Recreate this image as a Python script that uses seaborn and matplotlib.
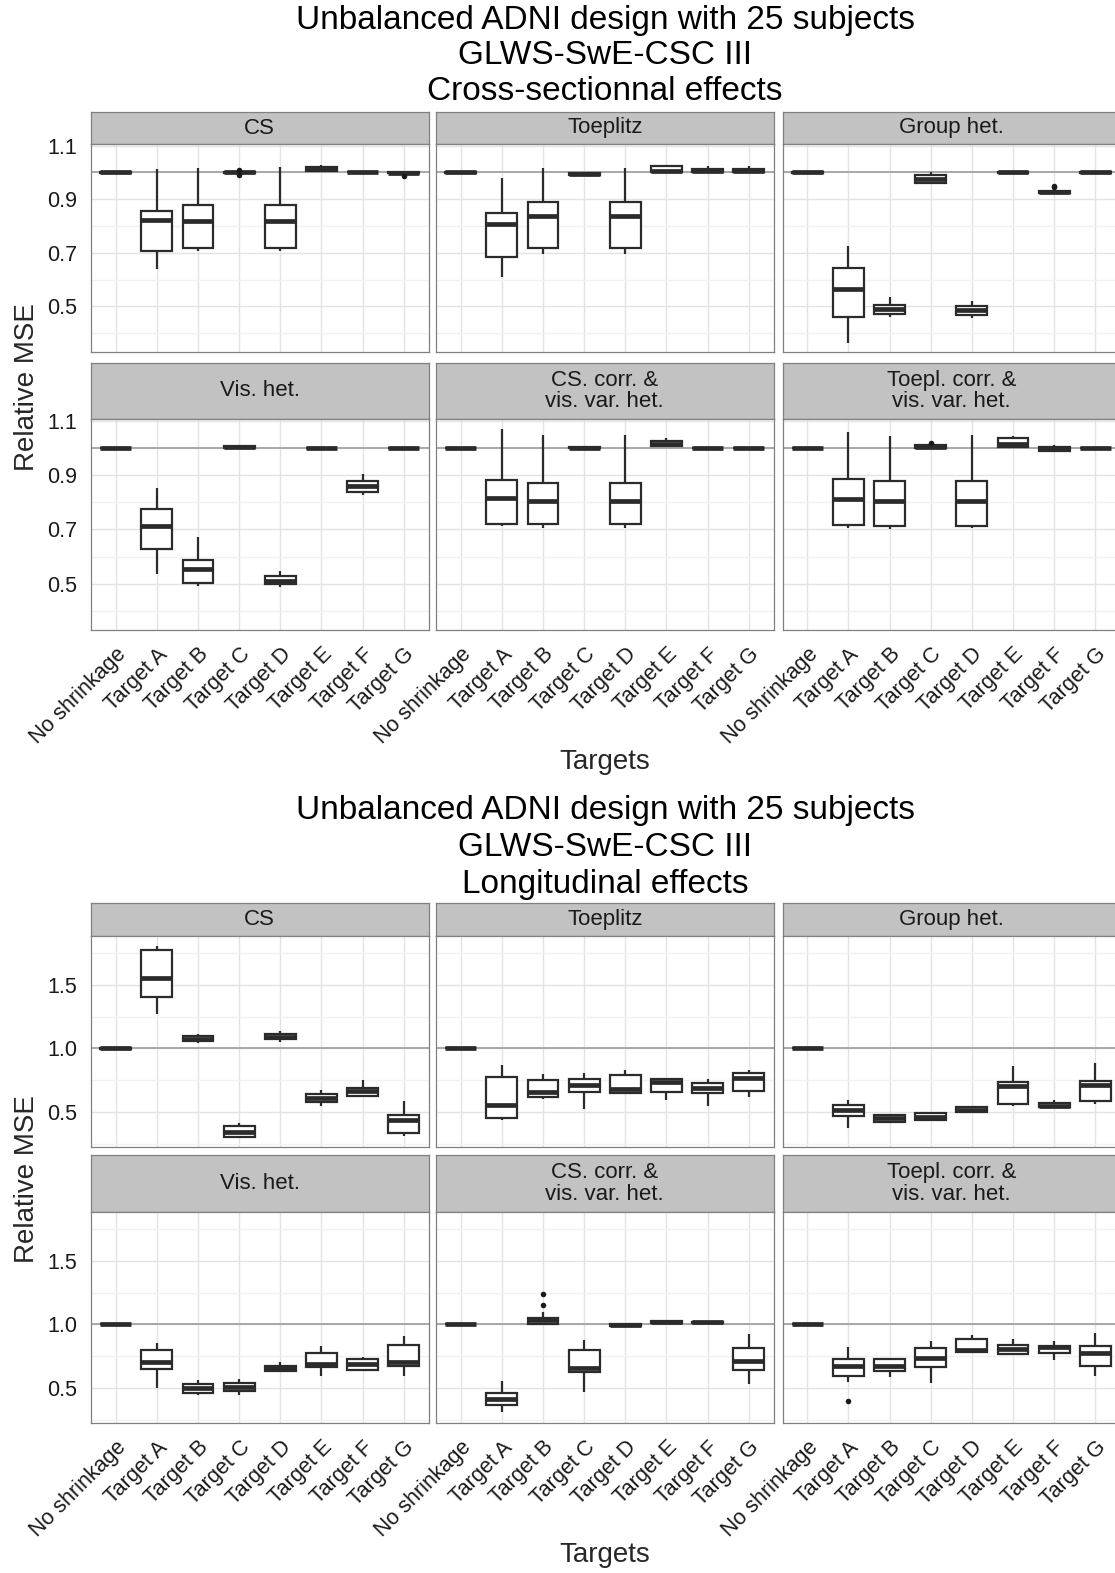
import numpy as np
import pandas as pd
import matplotlib
matplotlib.use("Agg")
import matplotlib.pyplot as plt
import seaborn as sns

# ---- data: five-number summaries (min, Q1, median, Q3, max) per target ----
targets = ["No shrinkage", "Target A", "Target B", "Target C",
           "Target D", "Target E", "Target F", "Target G"]
panel_names = ["CS", "Toeplitz", "Group het.", "Vis. het.",
               "CS. corr. &\nvis. var. het.", "Toepl. corr. &\nvis. var. het."]

flat = [0.998, 0.999, 1.000, 1.001, 1.002]

cross_cs = [flat,
            [0.641, 0.705, 0.822, 0.856, 1.014],
            [0.705, 0.719, 0.818, 0.880, 1.018],
            [0.995, 0.998, 1.000, 1.002, 1.004],
            [0.705, 0.719, 0.818, 0.880, 1.020],
            [1.004, 1.007, 1.012, 1.019, 1.026],
            [0.999, 1.000, 1.001, 1.003, 1.004],
            [0.995, 0.997, 0.999, 1.001, 1.003]]
cross_toeplitz = [flat,
                  [0.610, 0.686, 0.807, 0.848, 0.981],
                  [0.694, 0.719, 0.836, 0.889, 1.016],
                  [0.987, 0.989, 0.993, 0.997, 0.999],
                  [0.694, 0.719, 0.836, 0.891, 1.018],
                  [0.999, 1.001, 1.007, 1.025, 1.027],
                  [0.998, 1.000, 1.005, 1.013, 1.024],
                  [0.998, 1.000, 1.005, 1.013, 1.024]]
cross_grouphet = [flat,
                  [0.362, 0.462, 0.565, 0.644, 0.727],
                  [0.460, 0.470, 0.490, 0.505, 0.537],
                  [0.955, 0.962, 0.975, 0.990, 1.000],
                  [0.455, 0.467, 0.485, 0.500, 0.521],
                  flat,
                  [0.921, 0.924, 0.927, 0.931, 0.940],
                  flat]
cross_vishet = [flat,
                [0.537, 0.627, 0.714, 0.776, 0.853],
                [0.491, 0.503, 0.553, 0.587, 0.673],
                [0.998, 1.000, 1.003, 1.006, 1.008],
                [0.488, 0.499, 0.510, 0.528, 0.546],
                flat,
                [0.828, 0.836, 0.859, 0.877, 0.903],
                flat]
cross_cscorr = [flat,
                [0.712, 0.720, 0.815, 0.881, 1.070],
                [0.705, 0.720, 0.806, 0.869, 1.048],
                [0.998, 0.999, 1.001, 1.003, 1.006],
                [0.705, 0.720, 0.806, 0.870, 1.048],
                [1.003, 1.005, 1.015, 1.025, 1.035],
                flat,
                flat]
cross_toeplcorr = [flat,
                   [0.704, 0.718, 0.813, 0.885, 1.057],
                   [0.702, 0.712, 0.806, 0.879, 1.042],
                   [0.998, 1.000, 1.004, 1.009, 1.013],
                   [0.704, 0.713, 0.806, 0.879, 1.048],
                   [1.000, 1.002, 1.015, 1.037, 1.043],
                   [0.985, 0.988, 0.995, 1.002, 1.009],
                   flat]
cross_outliers = [("CS", "Target C", 1.010), ("CS", "Target C", 0.989),
                  ("CS", "Target G", 0.988),
                  ("Group het.", "Target F", 0.946), ("Group het.", "Target F", 0.951),
                  ("Toepl. corr. &\nvis. var. het.", "Target C", 1.018)]

long_cs = [[0.995, 0.998, 1.000, 1.002, 1.005],
           [1.268, 1.408, 1.553, 1.776, 1.808],
           [1.045, 1.055, 1.072, 1.095, 1.113],
           [0.292, 0.302, 0.340, 0.390, 0.416],
           [1.047, 1.073, 1.090, 1.111, 1.139],
           [0.545, 0.576, 0.612, 0.643, 0.676],
           [0.618, 0.628, 0.665, 0.690, 0.755],
           [0.308, 0.334, 0.434, 0.479, 0.587]]
long_toeplitz = [flat,
                 [0.434, 0.455, 0.553, 0.771, 0.868],
                 [0.605, 0.618, 0.660, 0.750, 0.795],
                 [0.526, 0.658, 0.708, 0.760, 0.803],
                 [0.640, 0.645, 0.682, 0.787, 0.829],
                 [0.597, 0.655, 0.732, 0.760, 0.768],
                 [0.547, 0.645, 0.687, 0.724, 0.760],
                 [0.618, 0.666, 0.763, 0.808, 0.829]]
long_grouphet = [flat,
                 [0.376, 0.466, 0.515, 0.553, 0.597],
                 [0.418, 0.420, 0.450, 0.479, 0.487],
                 [0.434, 0.436, 0.460, 0.492, 0.503],
                 [0.495, 0.497, 0.515, 0.539, 0.550],
                 [0.545, 0.566, 0.703, 0.732, 0.861],
                 [0.534, 0.536, 0.550, 0.571, 0.592],
                 [0.566, 0.584, 0.713, 0.745, 0.882]]
long_vishet = [flat,
               [0.503, 0.645, 0.700, 0.797, 0.855],
               [0.442, 0.463, 0.500, 0.529, 0.566],
               [0.447, 0.476, 0.510, 0.539, 0.574],
               [0.629, 0.632, 0.655, 0.676, 0.705],
               [0.597, 0.661, 0.692, 0.776, 0.829],
               [0.632, 0.639, 0.685, 0.724, 0.745],
               [0.592, 0.671, 0.705, 0.834, 0.908]]
long_cscorr = [flat,
               [0.311, 0.368, 0.416, 0.461, 0.555],
               [0.995, 1.000, 1.034, 1.053, 1.100],
               [0.471, 0.626, 0.653, 0.797, 0.876],
               [0.987, 0.990, 0.997, 1.003, 1.006],
               [1.010, 1.013, 1.022, 1.028, 1.032],
               [1.005, 1.008, 1.015, 1.022, 1.026],
               [0.534, 0.639, 0.713, 0.813, 0.921]]
long_toeplcorr = [flat,
                  [0.547, 0.597, 0.674, 0.726, 0.824],
                  [0.587, 0.632, 0.671, 0.724, 0.739],
                  [0.539, 0.661, 0.732, 0.811, 0.871],
                  [0.780, 0.782, 0.797, 0.882, 0.916],
                  [0.758, 0.766, 0.805, 0.837, 0.884],
                  [0.718, 0.776, 0.818, 0.829, 0.868],
                  [0.595, 0.671, 0.771, 0.829, 0.934]]
long_outliers = [("CS. corr. &\nvis. var. het.", "Target B", 1.153),
                 ("CS. corr. &\nvis. var. het.", "Target B", 1.237),
                 ("Toepl. corr. &\nvis. var. het.", "Target A", 0.397)]


def to_frame(summaries):
    rows = []
    for panel, per_target in zip(panel_names, summaries):
        for t, five in zip(targets, per_target):
            for v in five:
                rows.append((panel, t, v))
    return pd.DataFrame(rows, columns=["panel", "target", "value"])


cross_df = to_frame([cross_cs, cross_toeplitz, cross_grouphet,
                     cross_vishet, cross_cscorr, cross_toeplcorr])
long_df = to_frame([long_cs, long_toeplitz, long_grouphet,
                    long_vishet, long_cscorr, long_toeplcorr])
cross_out = pd.DataFrame(cross_outliers, columns=["panel", "target", "value"])
long_out = pd.DataFrame(long_outliers, columns=["panel", "target", "value"])

# ---- style ----
sns.set_style("white")
plt.rcParams["font.family"] = ["Liberation Sans", "DejaVu Sans"]

W, H = 1115, 1573
fig = plt.figure(figsize=(W / 100, H / 100), dpi=100)


def rect(x0, y0, x1, y1):
    return [x0 / W, 1 - y1 / H, (x1 - x0) / W, (y1 - y0) / H]


col_left = [91, 436, 782.5]
col_w = 337.5
dark = "#2b2b2b"


def draw_chart(df, out, titles, title_y, strips, panels, ylim, major, minor,
               xlabel_y):
    for line, ty in zip(titles, title_y):
        fig.text(605 / W, 1 - ty / H, line, ha="center", va="center",
                 fontsize=24, color="black")
    for i, name in enumerate(panel_names):
        r, c = divmod(i, 3)
        x0 = col_left[c]
        x1 = x0 + col_w
        sax = fig.add_axes(rect(x0, strips[r][0], x1, strips[r][1]))
        sax.set_facecolor("#C2C2C2")
        sax.set_xticks([])
        sax.set_yticks([])
        for s in sax.spines.values():
            s.set_color("#808080")
            s.set_linewidth(0.9)
        sax.text(0.5, 0.5, name, ha="center", va="center", fontsize=16,
                 color="#1a1a1a", transform=sax.transAxes, linespacing=1.05)

        ax = fig.add_axes(rect(x0, panels[r][0], x1, panels[r][1]))
        ax.axhline(1.0, color="#A8A8A8", lw=1.4, zorder=0.9)
        sns.boxplot(data=df[df.panel == name], x="target", y="value",
                    order=targets, ax=ax, whis=(0, 100), width=0.75,
                    color="white", saturation=1, linecolor=dark,
                    linewidth=1.6, showcaps=False, showfliers=False,
                    medianprops={"linewidth": 3.4, "color": dark})
        sub = out[out.panel == name]
        if len(sub):
            sns.stripplot(data=sub, x="target", y="value", order=targets,
                          jitter=False, color="#1a1a1a", size=4, ax=ax,
                          zorder=4)
        ax.set_xlim(-0.6, 7.6)
        ax.set_ylim(*ylim)
        ax.set_yticks(major)
        ax.set_yticks(minor, minor=True)
        ax.set_xticks(range(len(targets)))
        ax.set_axisbelow(True)
        ax.grid(which="major", color="#E3E3E3", lw=1.0)
        ax.grid(which="minor", axis="y", color="#F2F2F2", lw=1.0)
        ax.set_xlabel("")
        ax.set_ylabel("")
        for s in ax.spines.values():
            s.set_color("#808080")
            s.set_linewidth(0.9)
        ax.tick_params(which="minor", length=0)
        ax.tick_params(axis="both", which="major", length=7, width=1.5,
                       color=dark, labelsize=15.5, labelcolor="#1a1a1a",
                       pad=3)
        if c == 0:
            ax.set_yticklabels([f"{v:.1f}" for v in major])
        else:
            ax.tick_params(axis="y", left=False, labelleft=False)
        if r == 1:
            ax.set_xticklabels(targets, rotation=45, ha="right",
                               rotation_mode="anchor")
        else:
            ax.tick_params(axis="x", bottom=False, labelbottom=False)
    fig.text(605 / W, 1 - xlabel_y / H, "Targets", ha="center", va="center",
             fontsize=20)
    mid = (panels[0][0] + panels[1][1]) / 2
    fig.text(27 / W, 1 - mid / H, "Relative MSE", ha="center", va="center",
             rotation=90, fontsize=20)


draw_chart(cross_df, cross_out,
           ["Unbalanced ADNI design with 25 subjects", "GLWS-SwE-CSC III",
            "Cross-sectionnal effects"],
           [20, 56, 92],
           [(112, 144), (363, 419)], [(144, 352), (419, 630)],
           (0.33, 1.106), [0.5, 0.7, 0.9, 1.1], [0.4, 0.6, 0.8, 1.0], 762)

draw_chart(long_df, long_out,
           ["Unbalanced ADNI design with 25 subjects", "GLWS-SwE-CSC III",
            "Longitudinal effects"],
           [811, 848, 884],
           [(903, 936), (1155, 1212)], [(936, 1147), (1212, 1423)],
           (0.224, 1.884), [0.5, 1.0, 1.5], [0.25, 0.75, 1.25, 1.75], 1555)

fig.savefig("out.png", dpi=100, facecolor="white")
